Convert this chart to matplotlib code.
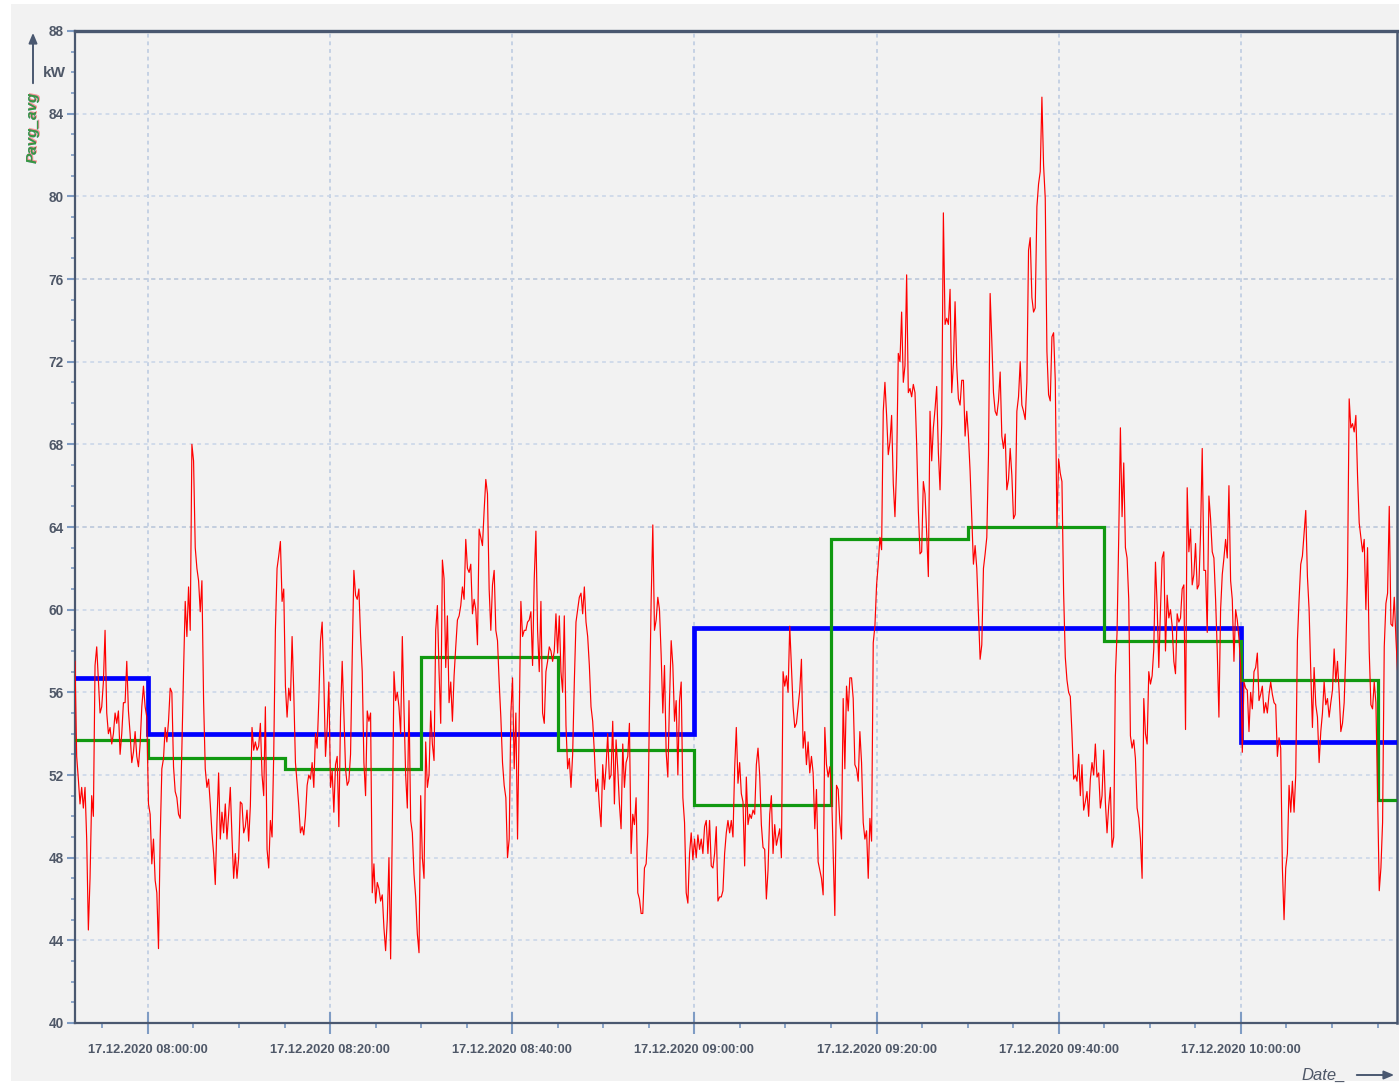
import datetime as dt
import numpy as np
import matplotlib
matplotlib.use("Agg")
import matplotlib.pyplot as plt
import matplotlib.dates as mdates
from matplotlib.patches import Rectangle, FancyArrowPatch
from matplotlib.ticker import MultipleLocator
from matplotlib import font_manager

# ---------------- data ----------------
red_start = np.datetime64("2020-12-17T07:52:00")
red_step_s = 11
red_values = [
    # 07:52 - 08:10
    57.5, 52.9, 51.8, 50.6, 51.4, 50.4, 51.4, 48.9, 44.5, 47.0,
    51.0, 50.0, 57.3, 58.2, 56.6, 55.0, 55.3, 56.5, 59.0, 55.0,
    54.0, 54.3, 53.5, 54.0, 55.0, 54.5, 55.1, 53.0, 54.0, 55.5,
    55.5, 57.5, 55.1, 54.0, 52.6, 53.1, 54.1, 52.9, 52.4, 53.5,
    55.3, 56.3, 55.3, 54.8, 50.6, 50.1, 47.7, 48.9, 46.9, 46.3,
    43.6, 48.9, 52.3, 52.8, 54.3, 53.6, 54.6, 56.2, 56.0, 52.4,
    51.2, 50.9, 50.1, 49.9, 53.3, 57.0, 60.4, 58.7, 61.1, 59.0,
    68.0, 67.2, 63.0, 62.0, 61.4, 59.9, 61.4, 55.6, 52.3, 51.4,
    51.8, 50.6, 49.2, 48.2, 46.7, 49.7, 52.1, 48.9, 50.2, 49.2,
    50.6, 48.9, 50.1, 51.4, 49.0, 47.0, 48.2, 47.0, 48.0, 50.7,
    50.6, 49.2,
    # 08:10 - 08:28
    49.5, 50.3, 48.8, 50.5, 54.3, 53.2, 53.6, 53.2, 53.4, 54.5,
    52.0, 51.0, 55.3, 48.4, 47.5, 49.8, 49.0, 53.0, 59.0, 62.0,
    62.6, 63.3, 60.4, 61.0, 56.3, 54.8, 56.2, 55.6, 58.7, 56.0,
    52.6, 51.6, 50.5, 49.2, 49.5, 49.1, 50.0, 51.5, 52.0, 51.8,
    52.6, 51.4, 54.0, 53.3, 55.6, 58.5, 59.4, 56.6, 52.9, 54.3,
    56.5, 51.4, 52.2, 50.2, 52.5, 52.9, 49.5, 54.8, 57.5, 55.0,
    52.3, 51.5, 51.7, 53.0, 57.7, 61.9, 60.7, 60.5, 61.0, 58.7,
    57.0, 52.6, 51.0, 55.1, 54.6, 55.0, 46.3, 47.7, 45.8, 46.8,
    46.5, 45.9, 46.2, 44.6, 43.5, 45.0, 48.0, 43.1, 49.3, 57.0,
    55.6, 56.0, 55.3, 54.0, 58.7, 55.2, 52.0, 50.4, 55.6,
    # 08:28 - 08:46
    49.8, 49.2, 47.2, 46.1, 44.3, 43.4, 51.0, 48.0, 47.0, 53.6,
    51.4, 52.0, 55.1, 53.5, 52.7, 59.0, 60.2, 57.0, 54.5, 62.4,
    61.5, 57.2, 59.7, 55.5, 56.5, 54.6, 56.8, 58.2, 59.5, 59.7,
    60.2, 61.1, 60.5, 63.4, 62.0, 61.8, 62.2, 59.8, 60.5, 60.0,
    58.3, 63.9, 63.5, 63.1, 64.8, 66.3, 65.6, 61.0, 59.0, 61.2,
    61.9, 59.0, 58.5, 56.5, 54.8, 52.6, 51.5, 50.9, 48.0, 48.9,
    55.0, 56.7, 52.3, 55.0, 48.9, 54.5, 60.4, 58.7, 59.0, 59.0,
    59.4, 59.5, 59.9, 57.3, 61.5, 63.8, 59.0, 57.0, 60.4, 55.0,
    54.5, 57.0, 57.5, 58.2, 58.0, 57.5, 58.0, 59.8, 57.9, 59.7,
    57.0, 56.0, 59.7, 54.4, 52.3, 52.8, 51.4, 53.0, 56.5,
    # 08:46 - 09:04
    59.4, 60.0, 60.6, 60.8, 59.8, 61.1, 59.4, 58.7, 57.3, 55.3,
    54.6, 53.1, 51.2, 51.8, 50.5, 49.5, 52.5, 51.3, 52.4, 54.0,
    51.8, 52.0, 54.6, 50.6, 53.7, 52.3, 50.6, 49.4, 53.5, 51.4,
    52.6, 52.9, 54.5, 48.2, 50.1, 49.6, 50.9, 46.3, 46.0, 45.3,
    45.3, 47.5, 47.7, 49.2, 55.3, 60.4, 64.1, 59.0, 59.5, 60.6,
    60.0, 57.8, 55.0, 57.3, 53.1, 51.9, 55.6, 58.5, 57.3, 54.6,
    55.6, 52.0, 55.6, 56.5, 50.9, 49.7, 46.3, 45.8, 48.2, 49.2,
    47.9, 48.9, 48.0, 49.1, 48.4, 48.9, 48.2, 49.5, 49.8, 48.2,
    49.8, 47.6, 47.5, 48.2, 49.5, 45.9, 46.1, 46.1, 46.4, 48.2,
    49.2, 49.8, 49.2, 49.8, 49.0, 52.3, 54.3, 51.6, 52.6,
    # 09:04 - 09:22
    51.1, 50.7, 47.6, 51.9, 49.6, 50.1, 49.9, 50.3, 50.1, 52.5,
    53.3, 52.0, 49.6, 48.5, 48.4, 46.0, 47.4, 50.1, 51.0, 48.2,
    49.6, 48.6, 49.0, 49.4, 48.0, 57.0, 56.3, 56.8, 56.0, 59.2,
    57.2, 55.3, 54.3, 54.5, 55.3, 56.1, 57.6, 53.3, 54.1, 52.5,
    53.6, 52.1, 52.9, 52.1, 49.4, 51.3, 47.8, 47.4, 47.0, 46.2,
    54.3, 52.5, 51.9, 52.4, 51.3, 48.2, 45.2, 51.5, 51.3, 49.7,
    48.9, 55.7, 52.3, 56.3, 55.1, 56.7, 56.7, 55.7, 52.5, 52.3,
    51.7, 54.1, 52.6, 49.7, 48.9, 49.3, 47.0, 49.9, 48.8, 58.4,
    59.2, 61.2, 62.2, 63.5, 62.9, 69.6, 71.0, 69.4, 67.5, 68.1,
    69.4, 66.1, 64.5, 66.9, 72.4, 72.0, 74.4, 71.0, 71.8,
    # 09:22 - 09:40
    76.2, 70.5, 70.7, 70.3, 70.9, 70.5, 68.0, 64.8, 62.7, 62.8,
    66.2, 65.6, 63.7, 61.6, 69.6, 67.2, 68.8, 69.7, 70.8, 67.6,
    65.8, 69.0, 79.2, 73.8, 74.1, 73.8, 75.5, 70.5, 71.9, 74.9,
    71.8, 70.2, 69.9, 71.1, 71.1, 68.4, 69.6, 68.4, 66.7, 64.5,
    62.2, 63.1, 62.0, 59.8, 57.6, 58.3, 62.0, 62.7, 63.5, 67.5,
    75.3, 73.0, 70.5, 69.6, 69.4, 70.1, 71.5, 68.4, 67.8, 68.5,
    65.8, 66.3, 67.8, 66.5, 64.4, 64.6, 69.6, 70.3, 72.0, 69.9,
    69.6, 69.2, 71.0, 77.4, 78.0, 75.1, 74.4, 74.6, 79.5, 80.6,
    81.2, 84.8, 81.5, 79.9, 72.5, 70.4, 70.1, 73.2, 73.4, 71.1,
    64.0, 67.3, 66.6, 66.2, 60.8, 57.7, 56.6, 56.0, 55.8,
    # 09:40 - 09:58
    54.0, 51.8, 52.0, 51.7, 53.0, 51.0, 52.5, 50.3, 50.7, 51.2,
    50.0, 51.8, 52.6, 52.0, 53.5, 51.9, 52.1, 50.4, 51.0, 53.2,
    50.7, 49.2, 50.5, 51.4, 48.5, 49.0, 56.8, 58.9, 63.5, 68.8,
    64.5, 67.1, 63.0, 62.5, 60.5, 53.9, 53.3, 53.7, 52.8, 50.4,
    49.9, 48.9, 47.0, 55.7, 54.0, 53.5, 57.0, 56.4, 56.8, 58.1,
    62.3, 60.2, 57.2, 60.0, 62.5, 62.8, 58.0, 60.7, 59.6, 60.0,
    59.2, 57.5, 56.9, 59.8, 59.4, 59.6, 61.0, 61.2, 54.2, 65.9,
    62.8, 63.9, 61.2, 61.7, 63.2, 61.0, 61.2, 63.7, 67.8, 61.9,
    61.9, 58.9, 65.5, 64.4, 62.8, 62.5, 60.5, 58.0, 54.8, 60.0,
    61.7, 62.5, 63.4, 62.5, 66.0, 61.4, 60.5, 57.5, 60.0,
    # 09:58 - 10:17
    59.5, 58.6, 57.3, 53.1, 56.5, 56.2, 56.1, 54.1, 56.0, 55.2,
    57.0, 57.2, 57.9, 55.6, 55.9, 56.3, 55.0, 55.5, 55.0, 55.9,
    56.5, 55.9, 55.5, 55.4, 52.9, 53.8, 53.3, 47.5, 45.0, 47.5,
    48.2, 51.5, 50.2, 51.7, 50.2, 52.0, 58.5, 60.5, 62.2, 62.6,
    63.7, 64.8, 61.6, 60.0, 57.0, 54.3, 57.2, 55.4, 54.8, 52.6,
    54.1, 55.0, 56.5, 55.4, 55.7, 54.8, 55.5, 56.1, 58.1, 56.5,
    57.5, 56.0, 54.1, 54.5, 55.5, 58.0, 61.6, 70.2, 68.8, 69.0,
    68.6, 69.4, 66.5, 64.2, 63.5, 62.8, 63.4, 60.0, 63.0, 58.0,
    55.4, 55.2, 56.5, 55.5, 51.1, 46.4, 47.5, 49.7, 58.2, 60.3,
    60.8, 65.0, 59.3, 59.2, 60.6, 58.6, 57.0, 53.6,
]

blue_times = ["2020-12-17T07:52:00", "2020-12-17T08:00:00", "2020-12-17T09:00:00",
              "2020-12-17T10:00:00", "2020-12-17T10:17:08"]
blue_values = [56.7, 54.0, 59.1, 53.6, 53.6]

green_times = ["2020-12-17T07:52:00", "2020-12-17T08:00:00", "2020-12-17T08:15:00",
               "2020-12-17T08:30:00", "2020-12-17T08:45:00", "2020-12-17T09:00:00",
               "2020-12-17T09:15:00", "2020-12-17T09:30:00", "2020-12-17T09:45:00",
               "2020-12-17T10:00:00", "2020-12-17T10:15:00", "2020-12-17T10:17:08"]
green_values = [53.7, 52.8, 52.3, 57.7, 53.2, 50.55, 63.4, 64.0, 58.5, 56.6, 50.8, 50.8]

x_start = "2020-12-17T07:52:00"
x_end = "2020-12-17T10:17:08"
y_min, y_max = 40, 88
y_label = "Pavg_avg"
unit_label = "kW"
x_label = "Date_"

# ---------------- figure ----------------
W, H = 1399, 1083
fig = plt.figure(figsize=(W / 100, H / 100), dpi=100, facecolor="white")
bg = Rectangle((11 / W, 1 - 1081 / H), (W - 11) / W, (1081 - 4) / H,
               transform=fig.transFigure, facecolor="#f2f2f2",
               edgecolor="none", zorder=-10)
fig.add_artist(bg)

ax = fig.add_axes([75 / W, 1 - 1023 / H, (1397 - 75) / W, (1023 - 31) / H])
ax.set_zorder(1)
ax.set_facecolor("#f2f2f2")

available = {f.name for f in font_manager.fontManager.ttflist}
font_list = [f for f in ["Liberation Sans Narrow", "Liberation Sans", "DejaVu Sans"]
             if f in available] or ["DejaVu Sans"]
narrow = font_list[0] == "Liberation Sans Narrow"
tick_fs = 11.5 if narrow else 9.3
label_color = "#4f5868"
tick_color = "#7f9cc4"
spine_color = "#4a5870"

red_times = red_start + np.arange(len(red_values)) * np.timedelta64(red_step_s, "s")
bt = np.array(blue_times, dtype="datetime64[s]")
gt = np.array(green_times, dtype="datetime64[s]")

ax.plot(bt, blue_values, drawstyle="steps-post", color="#0000ff", lw=3.4, zorder=3,
        solid_joinstyle="miter")
ax.plot(gt, green_values, drawstyle="steps-post", color="#119911", lw=2.3, zorder=4,
        solid_joinstyle="miter")
ax.plot(red_times, red_values, color="#ff0000", lw=0.85, zorder=5)

ax.set_xlim(np.datetime64(x_start), np.datetime64(x_end))
ax.set_ylim(y_min, y_max)

# ticks
ax.xaxis.set_major_locator(mdates.MinuteLocator(byminute=[0, 20, 40]))
ax.xaxis.set_minor_locator(mdates.MinuteLocator(byminute=range(0, 60, 5)))
ax.xaxis.set_major_formatter(mdates.DateFormatter("%d.%m.%Y %H:%M:%S"))
ax.yaxis.set_major_locator(MultipleLocator(4))
ax.yaxis.set_minor_locator(MultipleLocator(1))

ax.tick_params(axis="x", which="major", direction="inout", length=16, width=1.5,
               color=tick_color, pad=7, labelsize=tick_fs, labelcolor=label_color)
ax.tick_params(axis="x", which="minor", direction="out", length=3.5, width=1.3,
               color=tick_color)
ax.tick_params(axis="y", which="major", direction="out", length=6, width=1.5,
               color=tick_color, pad=2, labelsize=tick_fs + 0.5, labelcolor=label_color)
ax.tick_params(axis="y", which="minor", direction="out", length=3, width=1.2,
               color=tick_color)
for lab in ax.get_xticklabels() + ax.get_yticklabels():
    lab.set_family(font_list)
    lab.set_fontweight("bold")

# grid
ax.grid(True, which="major", axis="y", color="#c8d5e8", lw=1.1, ls=(0, (2.5, 2.5)), zorder=1)
ax.grid(True, which="major", axis="x", color="#b9c9e0", lw=1.1, ls=(0, (2.5, 2.5)), zorder=1)
for yv in (64, 76):
    ax.axhline(yv, color="#a3aab6", lw=1.1, ls=(0, (2.5, 2.5)), zorder=1.5)

for side, lw in (("left", 1.6), ("bottom", 1.6), ("right", 1.8), ("top", 2.4)):
    ax.spines[side].set_color(spine_color)
    ax.spines[side].set_linewidth(lw)

# axis labels (figure decorations)
def fx(px):
    return px / W

def fy(py):
    return 1 - py / H

for dx, dy, col in ((0.7, -0.6, "#ff2020"), (-0.6, 0.5, "#2030ff")):
    fig.text(fx(33 + dx), fy(127 + dy), y_label, rotation=90, ha="center", va="center",
             fontsize=11, style="italic", weight="bold", color=col, alpha=0.45,
             family=font_list)
fig.text(fx(33), fy(127), y_label, rotation=90, ha="center", va="center",
         fontsize=11, style="italic", weight="bold", color="#2f9a2f", alpha=0.9,
         family=font_list)
fig.text(fx(54), fy(73), unit_label, ha="center", va="center", fontsize=11,
         weight="bold", color=label_color, family=font_list)
fig.add_artist(FancyArrowPatch(
    (fx(33), fy(86)), (fx(33), fy(30)), transform=fig.transFigure,
    arrowstyle="-|>,head_length=6,head_width=2.5", color=spine_color, lw=1.4))

fig.text(fx(1324), fy(1075), x_label, ha="center", va="center", fontsize=12,
         style="italic", color=label_color, family=font_list)
fig.add_artist(FancyArrowPatch(
    (fx(1354), fy(1075)), (fx(1397), fy(1075)), transform=fig.transFigure,
    arrowstyle="-|>,head_length=6,head_width=2.5", color=spine_color, lw=1.4))

fig.savefig("out.png", dpi=100, facecolor=fig.get_facecolor())
